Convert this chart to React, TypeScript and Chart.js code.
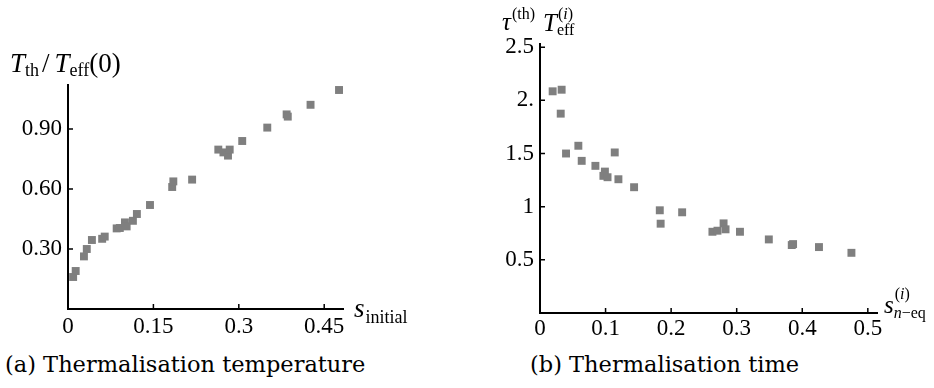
import React, { useEffect, useRef } from "react";
import { Chart, registerables } from "chart.js";

Chart.register(...registerables);

// ---- Data: (a) Thermalisation temperature ----
const sInitial = [0.009, 0.0135, 0.028, 0.033, 0.042, 0.06, 0.0645, 0.0855, 0.091, 0.1, 0.103, 0.114, 0.121, 0.144, 0.183, 0.185, 0.218, 0.264, 0.273, 0.281, 0.284, 0.306, 0.35, 0.384, 0.386, 0.426, 0.476];
const tempRatio = [0.16, 0.19, 0.263, 0.3, 0.345, 0.351, 0.362, 0.403, 0.405, 0.433, 0.413, 0.441, 0.475, 0.52, 0.61, 0.638, 0.647, 0.797, 0.783, 0.767, 0.797, 0.84, 0.907, 0.973, 0.962, 1.021, 1.095];
const leftXTicks = [0, 0.15, 0.3, 0.45];
const leftXTickLabels = ["0", "0.15", "0.3", "0.45"];
const leftYTicks = [0.3, 0.6, 0.9];
const leftYTickLabels = ["0.30", "0.60", "0.90"];

// ---- Data: (b) Thermalisation time ----
const sNeq = [0.0193, 0.033, 0.0316, 0.0397, 0.0585, 0.0636, 0.0845, 0.099, 0.0967, 0.103, 0.114, 0.1196, 0.1435, 0.1827, 0.184, 0.2168, 0.263, 0.2707, 0.28, 0.283, 0.305, 0.349, 0.384, 0.386, 0.4255, 0.475];
const tauTeff = [2.085, 2.1, 1.875, 1.5, 1.573, 1.431, 1.384, 1.33, 1.29, 1.277, 1.51, 1.258, 1.183, 0.966, 0.84, 0.947, 0.764, 0.774, 0.843, 0.787, 0.764, 0.692, 0.639, 0.648, 0.62, 0.566];
const rightXTicks = [0, 0.1, 0.2, 0.3, 0.4, 0.5];
const rightXTickLabels = ["0", "0.1", "0.2", "0.3", "0.4", "0.5"];
const rightYTicks = [0.5, 1, 1.5, 2, 2.5];
const rightYTickLabels = ["0.5", "1", "1.5", "2.", "2.5"];

const SERIF = "Liberation Serif";
const POINT_COLOR = "#7f7f7f";

Chart.defaults.font.family = SERIF;
Chart.defaults.font.size = 23;
Chart.defaults.color = "#000";

type Part = { text: string; font: string; dy?: number };

function drawRun(ctx: CanvasRenderingContext2D, x: number, y: number, parts: Part[]): number {
  let cx = x;
  for (const p of parts) {
    ctx.font = p.font;
    ctx.fillText(p.text, cx, y + (p.dy || 0));
    cx += ctx.measureText(p.text).width;
  }
  return cx;
}

const inwardTicks = {
  id: "inwardTicks",
  afterDraw(chart: any) {
    const { ctx, chartArea } = chart;
    const xs = chart.scales.x;
    const ys = chart.scales.y;
    ctx.save();
    ctx.strokeStyle = "#000";
    ctx.lineWidth = 1.5;
    ctx.beginPath();
    for (const t of xs.ticks) {
      if (t.value === 0) continue;
      const px = xs.getPixelForValue(t.value);
      ctx.moveTo(px, chartArea.bottom);
      ctx.lineTo(px, chartArea.bottom - 5);
    }
    for (const t of ys.ticks) {
      if (t.value === 0) continue;
      const py = ys.getPixelForValue(t.value);
      ctx.moveTo(chartArea.left, py);
      ctx.lineTo(chartArea.left + 5, py);
    }
    ctx.stroke();
    ctx.restore();
  },
};

function makeConfig(p: {
  xs: number[]; ys: number[]; xMax: number; yMax: number;
  xTicks: number[]; xLabels: string[]; yTicks: number[]; yLabels: string[];
  yWidth: number; xHeight: number; xPad: number; padding: any; titles: (ctx: CanvasRenderingContext2D, ca: any) => void;
}): any {
  const font = { family: SERIF, size: 23, style: "normal", weight: "normal" };
  return {
    type: "scatter",
    data: {
      datasets: [
        {
          data: p.xs.map((x, i) => ({ x, y: p.ys[i] })),
          pointStyle: "rect",
          pointRadius: 5.6,
          pointHoverRadius: 5.6,
          backgroundColor: POINT_COLOR,
          borderWidth: 0,
        },
      ],
    },
    options: {
      animation: false,
      responsive: false,
      devicePixelRatio: 1,
      layout: { padding: p.padding },
      plugins: { legend: { display: false }, tooltip: { enabled: false } },
      scales: {
        x: {
          type: "linear",
          min: 0,
          max: p.xMax,
          afterBuildTicks: (s: any) => { s.ticks = p.xTicks.map((v) => ({ value: v })); },
          afterFit: (s: any) => { s.height = p.xHeight; },
          ticks: {
            callback: (_v: any, i: number) => p.xLabels[i],
            font, color: "#000", padding: p.xPad, maxRotation: 0, autoSkip: false,
          },
          grid: { display: true, drawOnChartArea: false, drawTicks: false, color: "rgba(0,0,0,0)" },
          border: { display: true, color: "#000", width: 2 },
        },
        y: {
          type: "linear",
          min: 0,
          max: p.yMax,
          afterBuildTicks: (s: any) => { s.ticks = p.yTicks.map((v) => ({ value: v })); },
          afterFit: (s: any) => { s.width = p.yWidth; },
          ticks: {
            callback: (_v: any, i: number) => p.yLabels[i],
            font, color: "#000", padding: 6, autoSkip: false,
          },
          grid: { display: true, drawOnChartArea: false, drawTicks: false, color: "rgba(0,0,0,0)" },
          border: { display: true, color: "#000", width: 2 },
        },
      },
    },
    plugins: [
      inwardTicks,
      {
        id: "titles",
        afterDraw(chart: any) {
          const ctx = chart.ctx as CanvasRenderingContext2D;
          ctx.save();
          ctx.fillStyle = "#000";
          ctx.textBaseline = "alphabetic";
          ctx.textAlign = "left";
          p.titles(ctx, chart.chartArea);
          ctx.restore();
        },
      },
    ],
  };
}

const F = `"${SERIF}", serif`;
const big = `27px ${F}`;
const bigIt = `italic 27px ${F}`;
const small = `18px ${F}`;

function leftTitles(ctx: CanvasRenderingContext2D) {
  // y title: T_th / T_eff(0)
  let x = drawRun(ctx, 10, 72, [
    { text: "T", font: bigIt },
    { text: "th", font: small, dy: 4 },
  ]);
  x = drawRun(ctx, x + 3, 72, [{ text: "/", font: big }]);
  drawRun(ctx, x + 5, 72, [
    { text: "T", font: bigIt },
    { text: "eff", font: small, dy: 4 },
    { text: "(0)", font: big },
  ]);
  // x title: s_initial
  const xs = drawRun(ctx, 354, 317, [{ text: "s", font: bigIt }]);
  drawRun(ctx, xs + 1, 323, [{ text: "initial", font: small }]);
}

function rightTitles(ctx: CanvasRenderingContext2D) {
  const f = `italic 25px ${F}`;
  const sf = `16px ${F}`;
  const sfi = `italic 16px ${F}`;
  // y title: tau^(th) T^(i)_eff
  let x = drawRun(ctx, 32, 30, [{ text: "τ", font: f }]);
  drawRun(ctx, x + 1, 19, [{ text: "(th)", font: sf }]);
  x = drawRun(ctx, 73, 31, [{ text: "T", font: f }]);
  drawRun(ctx, x + 1, 19, [
    { text: "(", font: sf },
    { text: "i", font: sfi },
    { text: ")", font: sf },
  ]);
  drawRun(ctx, x, 35, [{ text: "eff", font: sf }]);
  // x title: s^(i)_{n-eq}
  const sx = drawRun(ctx, 414, 313, [{ text: "s", font: f }]);
  drawRun(ctx, sx + 1, 299, [
    { text: "(", font: sf },
    { text: "i", font: sfi },
    { text: ")", font: sf },
  ]);
  drawRun(ctx, sx, 318, [
    { text: "n", font: sfi },
    { text: "−eq", font: sf },
  ]);
}

function ChartCanvas(props: { config: any; width: number; height: number; left: number }) {
  const ref = useRef<HTMLCanvasElement | null>(null);
  useEffect(() => {
    if (!ref.current) return;
    const chart = new Chart(ref.current, props.config);
    return () => chart.destroy();
  }, []);
  return (
    <canvas
      ref={ref}
      width={props.width}
      height={props.height}
      style={{ position: "absolute", left: props.left, top: 0, width: props.width, height: props.height }}
    />
  );
}

export default function App() {
  const leftConfig = makeConfig({
    xs: sInitial, ys: tempRatio, xMax: 0.483, yMax: 1.12,
    xTicks: leftXTicks, xLabels: leftXTickLabels, yTicks: leftYTicks, yLabels: leftYTickLabels,
    yWidth: 68, xHeight: 36, xPad: 4,
    padding: { left: 0, top: 85, right: 127, bottom: 0 },
    titles: leftTitles,
  });
  const rightConfig = makeConfig({
    xs: sNeq, ys: tauTeff, xMax: 0.514, yMax: 2.53,
    xTicks: rightXTicks, xLabels: rightXTickLabels, yTicks: rightYTicks, yLabels: rightYTickLabels,
    yWidth: 70, xHeight: 32, xPad: 2,
    padding: { left: 0, top: 44, right: 57, bottom: 0 },
    titles: rightTitles,
  });
  const cap: React.CSSProperties = {
    position: "absolute",
    top: 350,
    fontFamily: "'DejaVu Serif', serif",
    fontSize: 22.5,
    color: "#000",
    whiteSpace: "nowrap",
    lineHeight: "28px",
  };
  return (
    <div style={{ position: "fixed", left: 0, top: 0, width: 934, height: 388, background: "#fff", overflow: "hidden" }}>
      <ChartCanvas config={leftConfig} width={470} height={345} left={0} />
      <ChartCanvas config={rightConfig} width={464} height={345} left={470} />
      <div style={{ ...cap, left: 5 }}>(a) Thermalisation temperature</div>
      <div style={{ ...cap, left: 530 }}>(b) Thermalisation time</div>
    </div>
  );
}
